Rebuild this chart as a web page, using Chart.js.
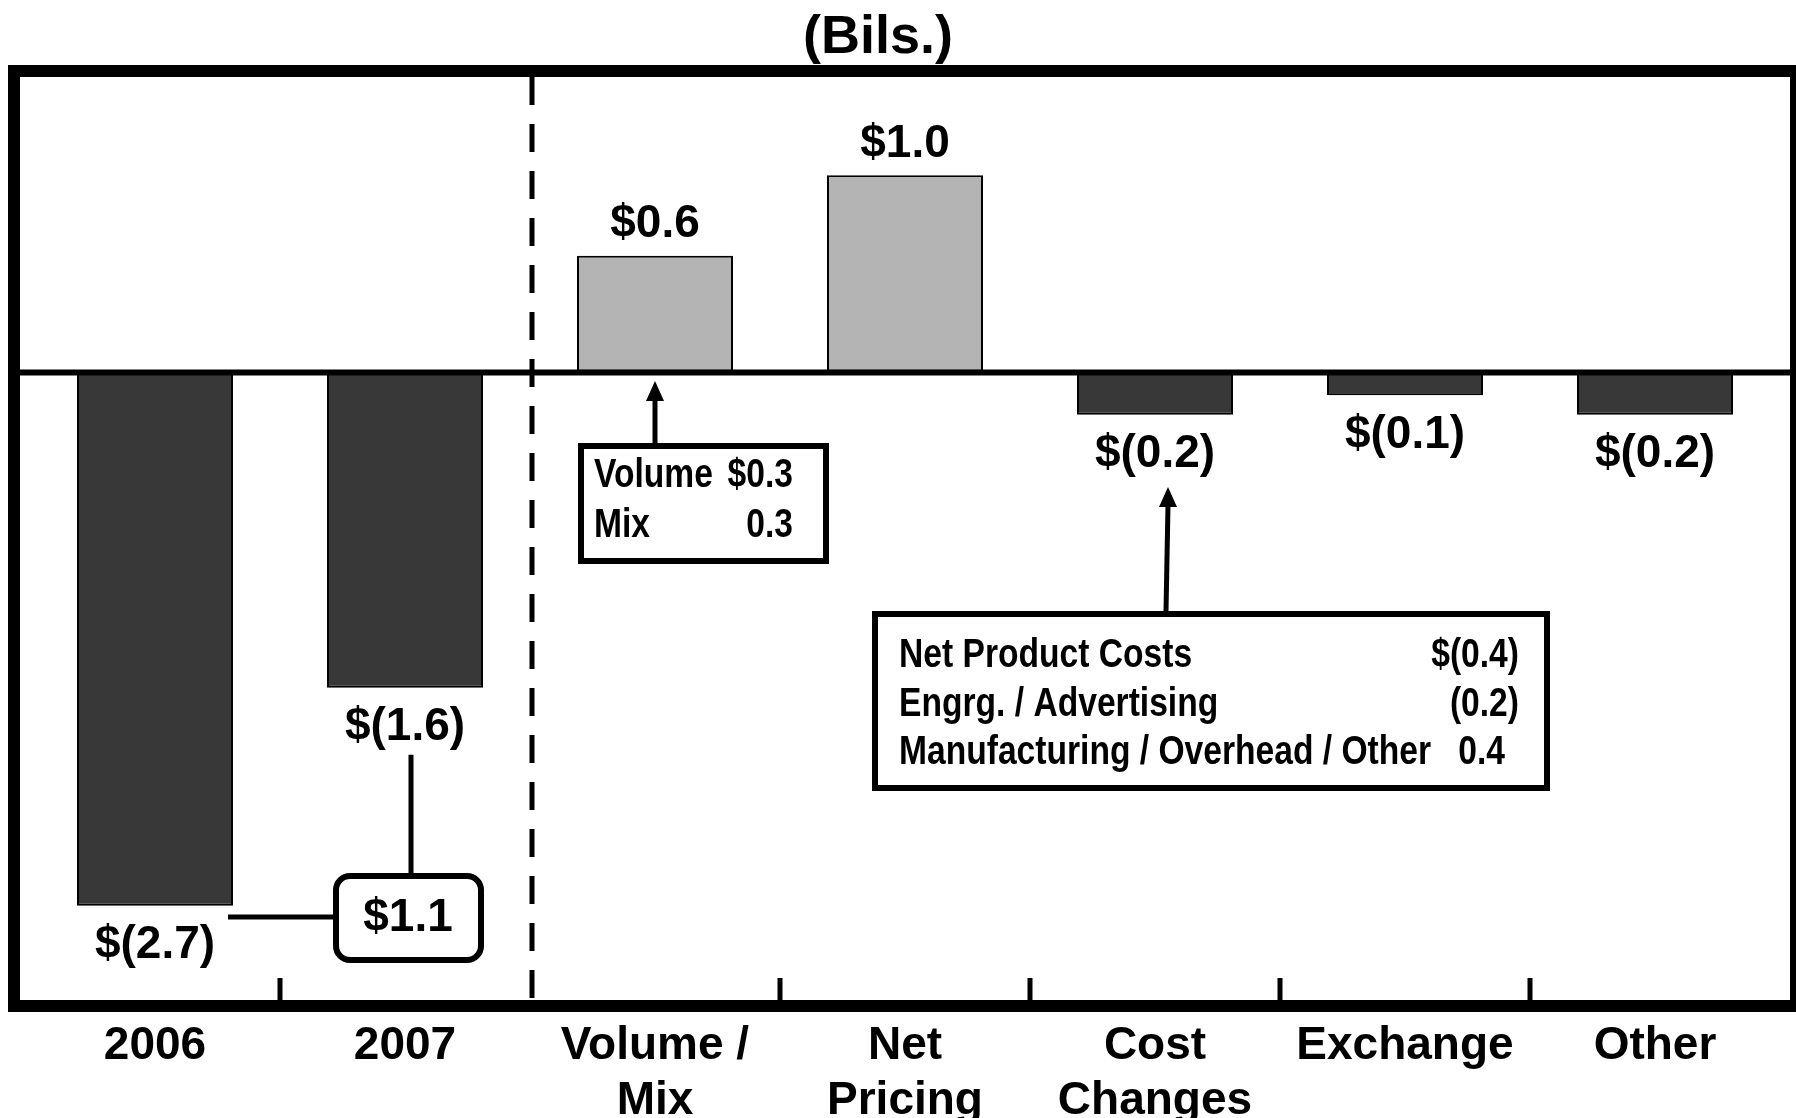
<!DOCTYPE html>
<html lang="en">
<head>
    <meta charset="UTF-8">
    <title>Net Income Walk (Bils.)</title>
    <script src="https://cdn.jsdelivr.net/npm/chart.js"></script>
    <style>
        body {
            margin: 0;
            background: #fff;
        }
        #walk {
            display: block;
        }
    </style>
</head>
<body>
    <canvas id="walk" width="1796" height="1118"></canvas>

    <script>
        // categories and values (billions)
        var categories = [['2006'], ['2007'], ['Volume /', 'Mix'], ['Net', 'Pricing'], ['Cost', 'Changes'], ['Exchange'], ['Other']];
        var values = [-2.72, -1.61, 0.59, 1.0, -0.22, -0.12, -0.22];
        var valueLabels = ['$(2.7)', '$(1.6)', '$0.6', '$1.0', '$(0.2)', '$(0.1)', '$(0.2)'];

        // callout box contents
        var volumeMixRows = [['Volume', '$0.3'], ['Mix', '0.3']];
        var costRows = [['Net Product Costs', '$(0.4)'], ['Engrg. / Advertising', '(0.2)'], ['Manufacturing / Overhead / Other', '0.4']];
        var improvementLabel = '$1.1';

        var FONT = '"Liberation Sans", Arial, Helvetica, sans-serif';

        // condensed bold text, like the narrow face in the callout boxes
        function narrowText(ctx, text, x, y, align) {
            var sx = 0.84;
            ctx.save();
            ctx.font = 'bold 40px ' + FONT;
            ctx.textBaseline = 'middle';
            ctx.textAlign = align;
            ctx.translate(x, y);
            ctx.scale(sx, 1);
            ctx.fillText(text, 0, 0);
            ctx.restore();
        }

        function arrowUp(ctx, x0, y0, x1, y1) {
            ctx.beginPath();
            ctx.moveTo(x0, y0);
            ctx.lineTo(x1, y1 + 18);
            ctx.stroke();
            ctx.beginPath();
            ctx.moveTo(x1, y1);
            ctx.lineTo(x1 - 9, y1 + 20);
            ctx.lineTo(x1 + 9, y1 + 20);
            ctx.closePath();
            ctx.fill();
        }

        var decor = {
            id: 'decor',
            afterDatasetsDraw: function(chart) {
                var ctx = chart.ctx;
                var area = chart.chartArea;
                var xs = chart.scales.x;
                var ys = chart.scales.y;
                var bars = chart.getDatasetMeta(0).data;
                var step = xs.getPixelForValue(1) - xs.getPixelForValue(0);
                var left = area.left - 10;
                var right = area.right + 10;

                ctx.save();
                ctx.strokeStyle = '#000';
                ctx.fillStyle = '#000';

                // zero line
                var y0 = ys.getPixelForValue(0) + 1;
                ctx.lineWidth = 6;
                ctx.beginPath();
                ctx.moveTo(left, y0);
                ctx.lineTo(right, y0);
                ctx.stroke();

                // dashed divider between actuals and the walk
                var xd = xs.getPixelForValue(1) + step / 2 + 2;
                ctx.lineWidth = 5;
                ctx.setLineDash([28, 19]);
                ctx.beginPath();
                ctx.moveTo(xd, area.top);
                ctx.lineTo(xd, area.bottom);
                ctx.stroke();
                ctx.setLineDash([]);

                // small ticks between categories on the bottom edge
                ctx.lineWidth = 5;
                [0, 2, 3, 4, 5].forEach(function(i) {
                    var xt = xs.getPixelForValue(i) + step / 2;
                    ctx.beginPath();
                    ctx.moveTo(xt, area.bottom - 22);
                    ctx.lineTo(xt, area.bottom);
                    ctx.stroke();
                });

                // frame
                ctx.lineWidth = 12;
                ctx.strokeRect(left - 6, area.top - 6, right - left + 12, area.bottom - area.top + 12);

                // title
                ctx.font = 'bold 54px ' + FONT;
                ctx.textAlign = 'center';
                ctx.textBaseline = 'middle';
                ctx.fillText('(Bils.)', 878, 38);

                // value labels
                ctx.font = 'bold 46px ' + FONT;
                bars.forEach(function(bar, i) {
                    var off = values[i] >= 0 ? -31 : 40;
                    ctx.fillText(valueLabels[i], bar.x, bar.y + off);
                });

                // 2006 -> 2007 improvement callout
                ctx.lineWidth = 5;
                ctx.beginPath();
                ctx.moveTo(bars[0].x + 73, 917);
                ctx.lineTo(333, 917);
                ctx.moveTo(411, bars[1].y + 67);
                ctx.lineTo(411, 873);
                ctx.stroke();
                ctx.lineWidth = 6;
                ctx.beginPath();
                ctx.roundRect(336, 876, 145, 84, 14);
                ctx.stroke();
                ctx.font = 'bold 46px ' + FONT;
                ctx.fillText(improvementLabel, 408, 918);

                // volume / mix callout
                ctx.lineWidth = 5;
                arrowUp(ctx, bars[2].x, 443, bars[2].x, 381);
                ctx.lineWidth = 6;
                ctx.strokeRect(581, 446, 245, 115);
                volumeMixRows.forEach(function(row, i) {
                    narrowText(ctx, row[0], 594, 476 + i * 50, 'left');
                    narrowText(ctx, row[1], 793, 476 + i * 50, 'right');
                });

                // cost changes callout
                ctx.lineWidth = 5;
                arrowUp(ctx, 1166, 611, 1168, 487);
                ctx.lineWidth = 6;
                ctx.strokeRect(875, 614, 672, 174);
                costRows.forEach(function(row, i) {
                    narrowText(ctx, row[0], 899, 656 + i * 48.5, 'left');
                    narrowText(ctx, row[1], i < 2 ? 1519 : 1505, 656 + i * 48.5, 'right');
                });

                ctx.restore();
            }
        };

        var ctx = document.getElementById('walk').getContext('2d');
        var walkChart = new Chart(ctx, {
            type: 'bar',
            data: {
                labels: categories,
                datasets: [{
                    data: values,
                    backgroundColor: values.map(function(v) { return v >= 0 ? '#b4b4b4' : '#383838'; }),
                    borderColor: '#000',
                    borderWidth: 2,
                    borderSkipped: false,
                    barPercentage: 0.624,
                    categoryPercentage: 1
                }]
            },
            options: {
                responsive: false,
                devicePixelRatio: 1,
                animation: false,
                layout: {
                    padding: { left: 30, right: 16, top: 77, bottom: 0 }
                },
                plugins: {
                    legend: { display: false },
                    title: { display: false },
                    tooltip: { enabled: false }
                },
                scales: {
                    x: {
                        grid: { display: false },
                        border: { display: false },
                        ticks: {
                            color: '#000',
                            font: { family: FONT, size: 46, weight: 'bold' },
                            padding: 11,
                            maxRotation: 0,
                            autoSkip: false
                        },
                        afterFit: function(scale) { scale.height = 118; }
                    },
                    y: {
                        display: false,
                        min: -3.2,
                        max: 1.5
                    }
                }
            },
            plugins: [decor]
        });
    </script>
</body>
</html>
